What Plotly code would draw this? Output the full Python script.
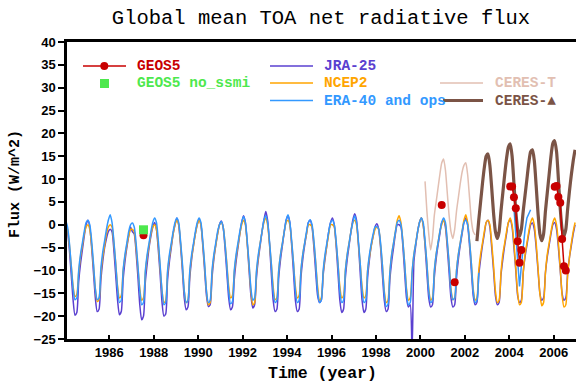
import plotly.graph_objects as go

# ---------------- data ----------------
start_year = 1984
# monthly values, one row per year (Jan..Dec)
jra25 = [
    [0.0, -1.5, -5.5, -11, -16.5, -19.8, -19.2, -12.5, -8.5, -5.5, -2.5, 0],
    [1.0, -0.5, -5, -10.5, -16, -19.0, -18.5, -12, -8, -5, -3, -1.5],
    [-1.0, -1.5, -5.5, -11, -16.5, -19.7, -19, -12, -8, -5, -2.5, -0.5],
    [-1.5, -2, -6, -11.5, -17.5, -20.8, -20, -12.5, -8.5, -5, -2.5, -0.5],
    [0.5, -1, -5.5, -11, -17, -20.0, -19.5, -12, -8, -5, -2, 0],
    [1.5, 0, -4.5, -10, -16, -18.6, -18, -11.5, -7.5, -4.5, -2, 0],
    [1.2, 0, -4.5, -10, -15.5, -17.9, -17.5, -11.5, -7.5, -4.5, -2, 0],
    [0.8, -0.5, -5, -10.5, -16, -18.6, -18, -12, -8, -5, -2, 0.5],
    [2.0, 0.5, -4, -10, -15.5, -18.2, -17.5, -11.5, -7.5, -4.5, -1.5, 1],
    [2.9, 1, -4, -10.5, -16.5, -19.0, -18.5, -11.5, -7.5, -4.5, -1.5, 1],
    [2.0, 0.5, -4.5, -10.5, -16.5, -19.0, -18.5, -11.5, -7.5, -4.5, -2, 0.5],
    [1.0, -0.5, -5, -10.5, -15.5, -17.0, -16.5, -11, -7.5, -4.5, -1.5, 0.5],
    [1.5, 0, -4.5, -10.5, -16.5, -19.2, -18.5, -11.5, -7.5, -4.5, -1.5, 1],
    [2.4, 1, -4, -10.5, -16.5, -19.2, -18.5, -11.5, -7.5, -4.5, -2.5, -0.5],
    [0.2, -1, -5, -11, -16.5, -19.0, -18.5, -12, -8, -5, -2, 0],
    [0.0, -0.5, -4.5, -10.5, -16, -18.0, -17.5, -28, -8, -4.5, -1.5, 0.5],
    [1.5, 0, -4.5, -10.5, -16, -18.0, -17.5, -11.5, -7.5, -4.5, -2, 0.5],
    [1.0, -0.5, -5, -10.5, -16, -18.0, -17.5, -11.5, -7.5, -4.5, -2, 0.5],
    [1.5, 0, -4.5, -10, -15.5, -17.5, -17, -11, -7.5, -4.5, -2, 0.5],
    [1.0, -0.5, -5, -10, -15.5, -17.5, -17, -11, -7.5, -4.5, -2, 0.5],
    [1.0, -0.5, -5, -10, -15.5, -17.0, -16.5, -10.5, -7, -4.5, -2, 0],
    [0.4, -1, -5, -10, -15, -16.5, -16, -10.5, -7, -4.5, -2, 0],
    [0.5, -1, -5, -10, -15, -16.5, -16, -10.5, -7, -4.5, -2, 0],
]
ncep2 = [
    [0.0, -1, -4.5, -9, -13.5, -15.7, -15.2, -10.5, -7, -4.5, -2, -0.5],
    [0.0, -1, -4.5, -9, -14, -16.8, -16.3, -10.5, -7, -4.5, -2, -0.5],
    [0.0, -0.5, -4, -8.5, -13.5, -16.0, -15.5, -10, -7, -4.5, -2.5, -1],
    [-1.0, -1.5, -5, -9.5, -14, -16.5, -16, -10.5, -7, -4.5, -2, -0.5],
    [0.0, -1, -4.5, -9.5, -14.5, -17.0, -16.5, -10.5, -7, -4.5, -2, 0],
    [1.0, 0, -4, -9, -14.5, -17.0, -16.5, -10.5, -7, -4.5, -2, 0],
    [1.0, 0, -4, -9, -14.5, -17.5, -17, -10.5, -7, -4.5, -2, 0],
    [0.5, -0.5, -4, -8.5, -13.5, -16.0, -15.5, -10.5, -7, -4.5, -2, 0],
    [1.0, 0, -4, -9, -14.5, -17.5, -17, -10.5, -7, -4, -1.5, 0.5],
    [1.5, 0, -4, -8.5, -13.5, -16.4, -16, -10, -6.5, -4, -1.5, 0.5],
    [1.0, 0, -4, -8.5, -13.5, -16.0, -15.5, -10, -6.5, -4, -2, 0],
    [0.0, -0.5, -4, -8.5, -13.5, -16.5, -16, -10.5, -7, -4.5, -2, 0],
    [0.0, -0.5, -4, -8.5, -13.5, -16.0, -15.5, -10, -6.5, -4, -1.5, 0.5],
    [1.0, 0, -4, -8.5, -13.5, -16.0, -15.5, -10, -7, -4.5, -2.5, -1],
    [-0.5, -1, -4.5, -9, -14.5, -17.0, -16.5, -10.5, -6.5, -4, -1.5, 1],
    [2.0, 0.5, -3.5, -8.5, -14, -16.5, -16, -10.5, -6.5, -4, -1.5, 0.5],
    [1.5, 0, -4, -8.5, -14, -16.5, -16, -10.5, -6.5, -4, -1.5, 0],
    [1.0, 0, -4, -8.5, -14, -16.4, -16, -10, -6.5, -4, -1.5, 1],
    [2.2, 0.5, -3.5, -8.5, -14, -16.5, -16, -10, -6.5, -4, -1.5, 0.5],
    [1.0, 0, -4, -9, -14.5, -17.0, -16.5, -10.5, -6.5, -4, -1.5, 0.5],
    [1.5, 0, -4, -9.5, -15, -17.5, -17, -10.5, -6.5, -4, -1.5, 0.5],
    [1.5, 0, -4, -9.5, -15, -17.7, -17, -10.5, -6.5, -4, -1.5, 0.5],
    [1.5, 0, -4, -9.5, -15.5, -18.0, -17.5, -11, -7, -4, -1.5, 0.5],
]
era40 = [
    [1.0, -0.5, -4, -9, -14, -16.4, -16, -10, -6.5, -4, -1.5, 0.5],
    [1.0, 0, -3.5, -8.5, -14, -16.4, -16, -9.5, -6, -3.5, -1, 1],
    [2.2, 0.5, -3.5, -8.5, -14, -17.0, -16.5, -10, -6.5, -4, -1.5, 0],
    [0.4, -0.5, -4, -9, -14.5, -17.5, -17, -10, -6.5, -4, -1.5, 0.5],
    [1.5, 0.5, -3.5, -9, -14.5, -17.5, -17, -10, -6.5, -4, -1.5, 0.5],
    [1.5, 0.5, -3.5, -8.5, -14.5, -17.0, -16.5, -10, -6.5, -4, -1.5, 0.5],
    [1.5, 0.5, -3.5, -8.5, -14.5, -17.0, -16.5, -10, -6.5, -4, -1.5, 0],
    [0.7, -0.5, -4, -9, -14.5, -17.3, -16.8, -10, -6.5, -4, -1.5, 0.5],
    [1.8, 0.5, -3.5, -8.5, -14, -16.5, -16, -10, -6.5, -4, -1.5, 1],
    [2.0, 0.5, -3.5, -8.5, -14.5, -17.0, -16.5, -10, -6.5, -4, -1.5, 1],
    [2.2, 0.5, -3.5, -8.5, -14.5, -17.0, -16.5, -10, -6.5, -4, -1.5, 0.5],
    [1.1, 0, -3.5, -8.5, -14.5, -17.0, -16.5, -10, -6.5, -4, -1.5, 0.5],
    [1.0, 0, -3.5, -8.5, -14.5, -17.0, -16.5, -10, -6.5, -4, -1.5, 0.5],
    [2.0, 0.5, -3.5, -8.5, -14.5, -17.0, -16.5, -10, -6.5, -4, -2, -0.5],
    [-0.4, -1, -4, -9, -15, -17.9, -17.4, -10.5, -6.5, -4, -1.5, 0.5],
    [1.0, 0, -3.5, -8.5, -14.5, -17.5, -17, -10.5, -6.5, -4, -1.5, 0.5],
    [1.5, 0.5, -3.5, -8.5, -14.5, -17.0, -16.5, -10, -6.5, -4, -1.5, 0.5],
    [1.5, 0.5, -3.5, -8.5, -14.5, -16.4, -16, -10, -6.5, -4, -1.5, 0.5],
    [1.0, 0, -3.5, -8.5, -14.5, -17.0, -16.5, -10.5],
]
# ERA operational analyses (Mar 2004 .. Dec 2004)
era_ops_start = (2004, 3)
era_ops = [3.7, -2, -8, -13.5, -9, -4, -1, 1.5, 2.5, 3.3]

# CERES Terra from Mar 2000
ceres_t_start = (2000, 3)
ceres_t = [9.5, 3, -2, -5.5, -3, 2, 5, 8, 11, 13.5,
           14.4, 12, 7, 2, -1.5, -3, -1, 3, 6, 9, 11.5, 13,
           13.6, 11, 6, 1, -1.5, -2.2]
# CERES Aqua from Jul 2002
ceres_a_start = (2002, 7)
ceres_a = [-3.6, 1, 5, 9, 12.5, 15,
           15.5, 13, 8, 2.5, -1.5, -3, -1.5, 3, 7, 11, 14.5, 17,
           17.7, 15, 9, 3, -1, -2.5, -1, 3, 6.5, 10, 13.5, 16,
           16.4, 14, 8.5, 2.5, -2, -3.5, -2, 3, 7, 11, 15, 17.8,
           18.4, 16, 10, 3.5, -1, -2.4, -1, 3.5, 7.5, 11, 14, 16.4]

# GEOS5 runs: (year, month, value); None separates runs
geos5 = [
    (1987, 7, -2.3), None,
    (2000, 12, 4.3), None,
    (2001, 7, -12.6), None,
    (2004, 1, 8.4), (2004, 2, 8.4), (2004, 3, 6.0), (2004, 4, 3.6),
    (2004, 5, -3.6), (2004, 6, -8.3), (2004, 7, -5.5), None,
    (2006, 1, 8.3), (2006, 2, 8.5), (2006, 3, 6.1), (2006, 4, 4.8),
    (2006, 5, -3.1), (2006, 6, -9.1), (2006, 7, -10.0),
]
geos5_nossmi = [(1987, 7, -1.1)]

x_ticks = list(range(1986, 2007, 2))
y_ticks = list(range(-25, 41, 5))

# ---------------- helpers ----------------
def tm(year, month):
    return year + (month - 0.5) / 12.0

def flatten_rows(rows, y0):
    xs, ys = [], []
    for i, row in enumerate(rows):
        for m, v in enumerate(row):
            xs.append(tm(y0 + i, m + 1))
            ys.append(v)
    return xs, ys

def series_from(start, vals):
    y, m = start
    xs = []
    for i in range(len(vals)):
        mm = m - 1 + i
        xs.append(tm(y + mm // 12, mm % 12 + 1))
    return xs, list(vals)

def points(lst):
    xs, ys = [], []
    for p in lst:
        if p is None:
            xs.append(None); ys.append(None)
        else:
            xs.append(tm(p[0], p[1])); ys.append(p[2])
    return xs, ys

C_GEOS = "#C80000"
C_GREEN = "#4DE84D"
C_JRA = "#5A40D0"
C_NCEP = "#FFA500"
C_ERA = "#3399FF"
C_CT = "#E2BFB2"
C_CA = "#7B5446"

fig = go.Figure()
x, y = flatten_rows(jra25, start_year)
fig.add_trace(go.Scatter(x=x, y=y, mode="lines", line=dict(color=C_JRA, width=1.5, shape="spline", smoothing=0.6), showlegend=False))
x, y = flatten_rows(ncep2, start_year)
fig.add_trace(go.Scatter(x=x, y=y, mode="lines", line=dict(color=C_NCEP, width=1.5, shape="spline", smoothing=0.6), showlegend=False))
x, y = flatten_rows(era40, start_year)
fig.add_trace(go.Scatter(x=x, y=y, mode="lines", line=dict(color=C_ERA, width=1.5, shape="spline", smoothing=0.6), showlegend=False))
x, y = series_from(era_ops_start, era_ops)
fig.add_trace(go.Scatter(x=x, y=y, mode="lines", line=dict(color=C_ERA, width=1.5), showlegend=False))
x, y = series_from(ceres_t_start, ceres_t)
fig.add_trace(go.Scatter(x=x, y=y, mode="lines", line=dict(color=C_CT, width=1.5, shape="spline", smoothing=0.6), showlegend=False))
x, y = series_from(ceres_a_start, ceres_a)
fig.add_trace(go.Scatter(x=x, y=y, mode="lines", line=dict(color=C_CA, width=3.2, shape="spline", smoothing=0.6), showlegend=False))
x, y = points(geos5)
fig.add_trace(go.Scatter(x=x, y=y, mode="lines+markers", line=dict(color=C_GEOS, width=1.5),
                         marker=dict(color=C_GEOS, size=8), showlegend=False, connectgaps=False))
x, y = points(geos5_nossmi)
fig.add_trace(go.Scatter(x=x, y=y, mode="markers", marker=dict(color=C_GREEN, size=9, symbol="square"),
                         showlegend=False))

W, H = 576, 387
L, R, T, B = 67, 0, 42, 48
pw, ph = W - L - R, H - T - B

def px(xp):
    return (xp - L) / pw

def py(yp):
    return (H - B - yp) / ph

MONO = "Liberation Mono, Courier New, monospace"
shapes = []
annotations = []

def legend_line(x0, x1, yp, color, width):
    shapes.append(dict(type="line", xref="paper", yref="paper", x0=px(x0), x1=px(x1),
                       y0=py(yp), y1=py(yp), line=dict(color=color, width=width)))

def legend_text(x0, yp, text, color):
    annotations.append(dict(xref="paper", yref="paper", x=px(x0), y=py(yp), text=text,
                            showarrow=False, xanchor="left", yanchor="middle",
                            font=dict(family=MONO, size=14.5, color=color, weight="bold")))

legend_line(83, 126, 66, C_GEOS, 1.5)
shapes.append(dict(type="circle", xref="paper", yref="paper", x0=px(100.3), x1=px(108.3),
                   y0=py(70), y1=py(62), fillcolor=C_GEOS, line=dict(color=C_GEOS, width=0)))
legend_text(135, 66, "GEOS5", C_GEOS)
shapes.append(dict(type="rect", xref="paper", yref="paper", x0=px(100), x1=px(109),
                   y0=py(88), y1=py(79), fillcolor=C_GREEN, line=dict(color=C_GREEN, width=0)))
legend_text(135, 83, "GEOS5 no_ssmi", C_GREEN)
legend_line(270, 313, 66, C_JRA, 1.5)
legend_text(322, 66, "JRA-25", C_JRA)
legend_line(270, 313, 83, C_NCEP, 1.5)
legend_text(322, 83, "NCEP2", C_NCEP)
legend_line(270, 313, 100.5, C_ERA, 1.5)
legend_text(322, 100.5, "ERA-40 and ops", C_ERA)
legend_line(440, 483, 83, C_CT, 1.5)
legend_text(493, 83, "CERES-T", C_CT)
legend_line(443, 483, 100.5, C_CA, 3)
legend_text(493, 100.5, "CERES-▲", C_CA)

annotations.append(dict(xref="paper", yref="paper", x=px(15), y=py(184), text="Flux (W/m^2)",
                        textangle=-90, showarrow=False, xanchor="center", yanchor="middle",
                        font=dict(family=MONO, size=15, color="black", weight="bold")))
annotations.append(dict(xref="paper", yref="paper", x=px(322), y=py(373), text="Time (year)",
                        showarrow=False, xanchor="center", yanchor="middle",
                        font=dict(family=MONO, size=16.5, color="black", weight="bold")))

TICKFONT = dict(family="Liberation Sans, Arial", size=13, color="black", weight="bold")
fig.update_layout(
    width=W, height=H,
    margin=dict(l=L, r=R, t=T, b=B, pad=0),
    paper_bgcolor="white", plot_bgcolor="white",
    title=dict(text="Global mean TOA net radiative flux", x=321 / W, y=1 - 17 / H,
               xanchor="center", yanchor="middle",
               font=dict(family=MONO, size=20.5, color="black")),
    xaxis=dict(range=[1984.1, 2007.0], tickvals=x_ticks, ticktext=[str(v) for v in x_ticks],
               showgrid=False, zeroline=False, showline=True, linecolor="black", linewidth=2.5,
               mirror=True, ticks="inside", ticklen=4, tickwidth=1.5, tickcolor="black",
               tickfont=TICKFONT),
    yaxis=dict(range=[-25, 40], tickvals=y_ticks, ticktext=[str(v).replace("-", "\u2212") for v in y_ticks],
               showgrid=False, zeroline=False, showline=True, linecolor="black", linewidth=2.5,
               ticks="outside", ticklen=6, tickwidth=1.5, tickcolor="black",
               tickfont=TICKFONT),
    shapes=shapes, annotations=annotations,
)

fig.write_html("out.html")
